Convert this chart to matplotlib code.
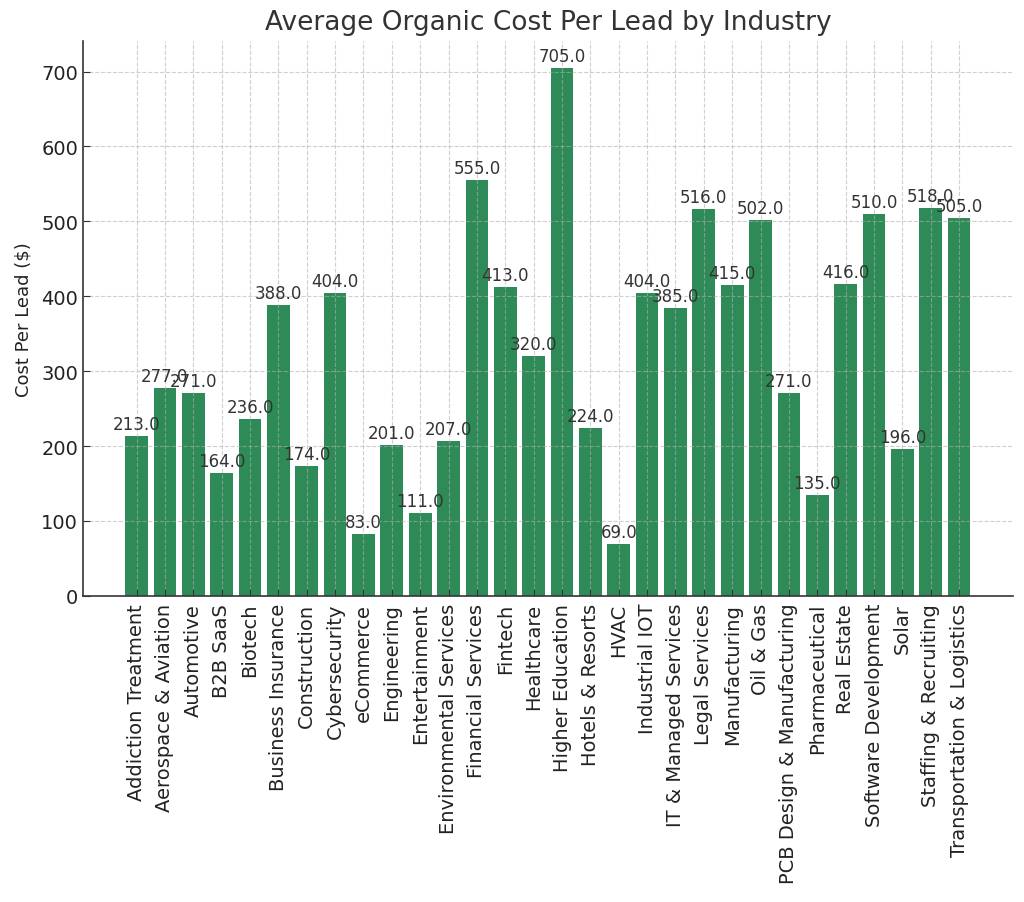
import matplotlib
matplotlib.use("Agg")
import matplotlib.pyplot as plt

industries = ["Addiction Treatment", "Aerospace & Aviation", "Automotive", "B2B SaaS", "Biotech",
              "Business Insurance", "Construction", "Cybersecurity", "eCommerce", "Engineering",
              "Entertainment", "Environmental Services", "Financial Services", "Fintech", "Healthcare",
              "Higher Education", "Hotels & Resorts", "HVAC", "Industrial IOT", "IT & Managed Services",
              "Legal Services", "Manufacturing", "Oil & Gas", "PCB Design & Manufacturing", "Pharmaceutical",
              "Real Estate", "Software Development", "Solar", "Staffing & Recruiting", "Transportation & Logistics"]
costs = [213, 277, 271, 164, 236, 388, 174, 404, 83, 201, 111, 207, 555, 413, 320,
         705, 224, 69, 404, 385, 516, 415, 502, 271, 135, 416, 510, 196, 518, 505]

plt.rcParams['font.family'] = ['DejaVu Sans']
txt = '#333333'
fig, ax = plt.subplots(figsize=(10.24, 9.03), dpi=100)
fig.subplots_adjust(left=0.081, right=0.989, top=0.953, bottom=0.339)

bars = ax.bar(industries, costs, color='seagreen', zorder=2)
for b, v in zip(bars, costs):
    ax.text(b.get_x() + b.get_width() / 2, v + 4, f"{float(v):.1f}", ha='center', va='bottom',
            fontsize=12, color=txt, zorder=4)

ax.set_title("Average Organic Cost Per Lead by Industry", fontsize=19, color=txt, pad=9)
ax.set_ylabel("Cost Per Lead ($)", fontsize=13, color='#222222', labelpad=6)
ax.tick_params(axis='x', rotation=90, labelsize=14, labelcolor='#222222', direction='in',
               length=5, color='#333333', pad=5)
ax.tick_params(axis='y', labelsize=14, labelcolor='#222222', direction='in', length=5,
               color='#333333')
ax.set_axisbelow(False)
ax.grid(True, linestyle='--', color='#b0b0b0', alpha=0.6, linewidth=0.8, zorder=3)
ax.spines['top'].set_visible(False)
ax.spines['right'].set_visible(False)
for s in ('left', 'bottom'):
    ax.spines[s].set_color('#333333')
    ax.spines[s].set_linewidth(1.2)

fig.savefig("out.png", dpi=100)
